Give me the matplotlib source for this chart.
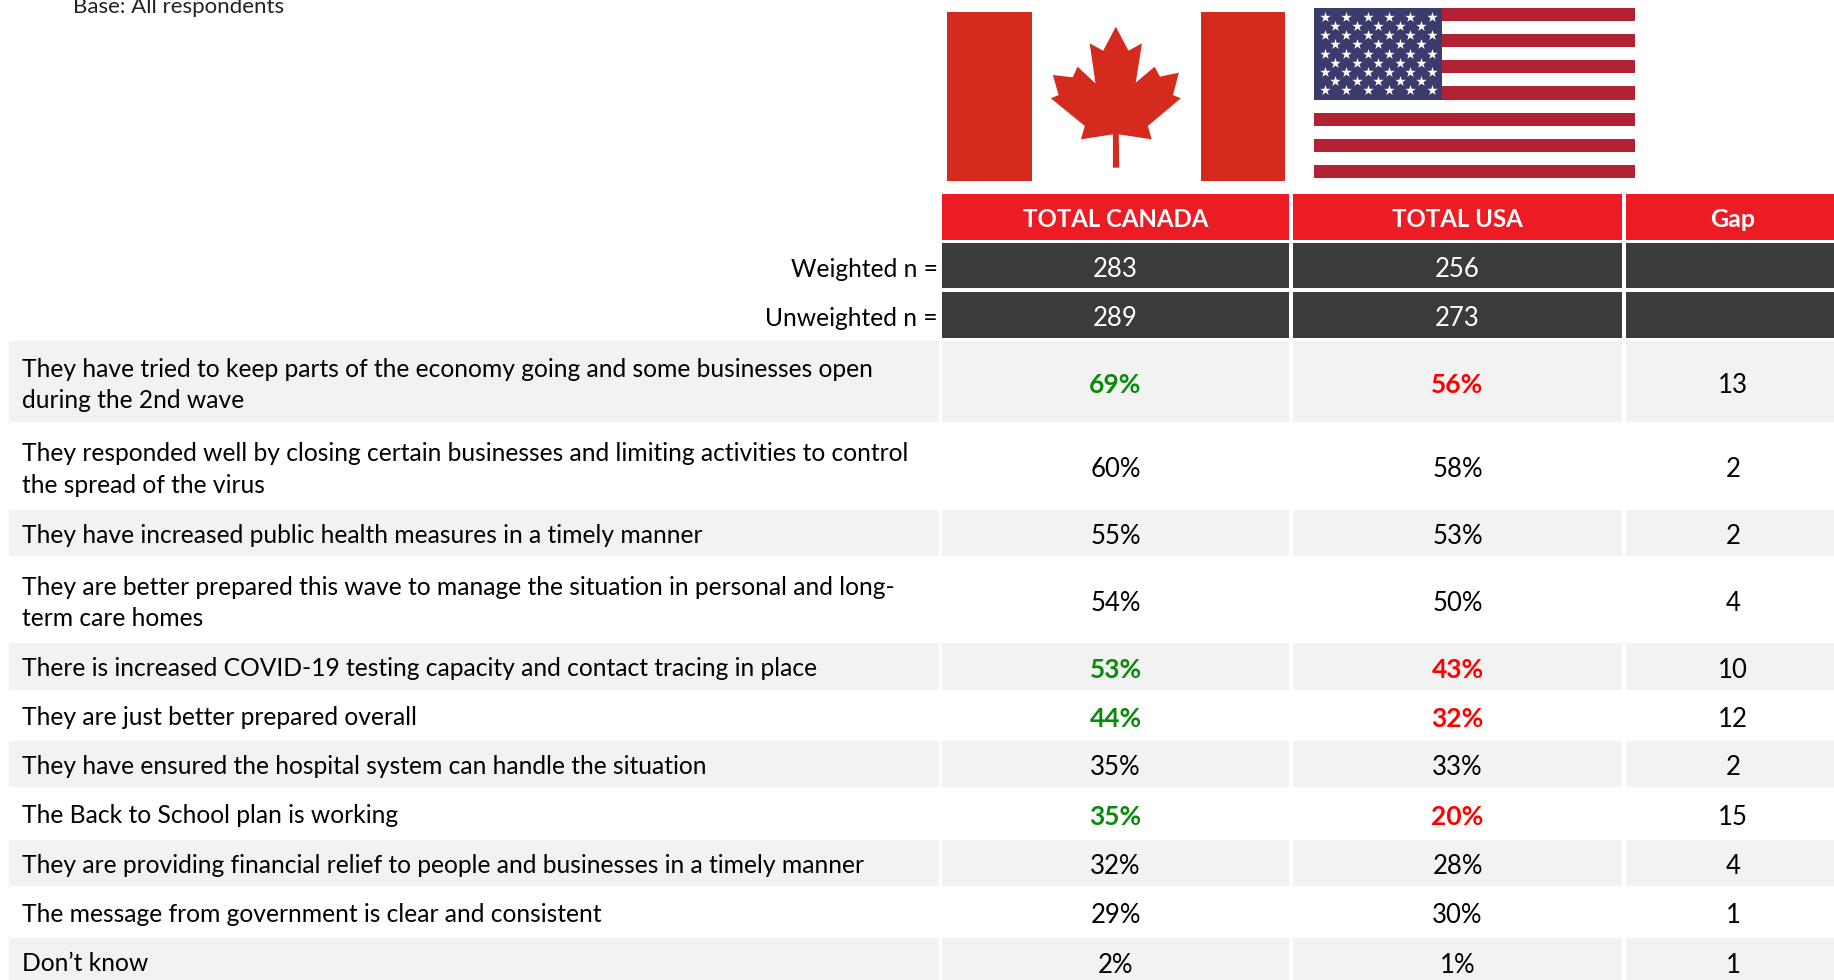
import matplotlib
matplotlib.use("Agg")
import matplotlib.pyplot as plt
from matplotlib.patches import Polygon, Rectangle

plt.rcParams["font.family"] = ["Lato", "DejaVu Sans"]

# table content
base_note = "Base: All respondents"
headers = ["TOTAL CANADA", "TOTAL USA", "Gap"]
weighted_n = ["283", "256", ""]
unweighted_n = ["289", "273", ""]
statements = [
    "They have tried to keep parts of the economy going and some businesses open\nduring the 2nd wave",
    "They responded well by closing certain businesses and limiting activities to control\nthe spread of the virus",
    "They have increased public health measures in a timely manner",
    "They are better prepared this wave to manage the situation in personal and long-\nterm care homes",
    "There is increased COVID-19 testing capacity and contact tracing in place",
    "They are just better prepared overall",
    "They have ensured the hospital system can handle the situation",
    "The Back to School plan is working",
    "They are providing financial relief to people and businesses in a timely manner",
    "The message from government is clear and consistent",
    "Don\u2019t know",
]
canada = [69, 60, 55, 54, 53, 44, 35, 35, 32, 29, 2]
usa = [56, 58, 53, 50, 43, 32, 33, 20, 28, 30, 1]
gap = [13, 2, 2, 4, 10, 12, 2, 15, 4, 1, 1]
significant = [True, False, False, False, True, True, False, True, False, False, False]

# layout, in reference pixels (last row and column run off the canvas)
W, H = 1834, 980
col_edges = [(942, 1289), (1293, 1622), (1626, 1840)]
row_edges = [341, 423, 510, 557, 643, 691, 741, 788, 840, 887, 938, 986]
RED = "#ED1C24"
DARK = "#3B3B3B"
GREY = "#F2F2F2"
GREEN = "#0A8A0A"
TEXT_SIZE = 17.7
NUM_SIZE = 18.5

fig = plt.figure(figsize=(W / 100, H / 100), dpi=100)
ax = fig.add_axes([0, 0, 1, 1])
ax.set_xlim(0, W)
ax.set_ylim(H, 0)
ax.axis("off")


def cell(x0, x1, y0, y1, color):
    ax.add_patch(Rectangle((x0, y0), x1 - x0, y1 - y0, facecolor=color, edgecolor="none"))


def centered(x, y, text, color="black", weight="normal", size=NUM_SIZE):
    ax.text(x, y, text, ha="center", va="center", color=color, fontweight=weight, fontsize=size)


ax.text(73, 7, base_note, ha="left", va="center", fontsize=16, color="#222222")

# Canadian flag
cell(947, 1032, 12, 181, "#D52B1E")
cell(1201, 1285, 12, 181, "#D52B1E")
leaf = [(404, 80), (430, 152), (458, 130), (445, 248), (484, 200), (495, 230), (534, 218),
        (522, 285), (538, 295), (470, 378), (478, 418), (410, 403), (411, 503), (398, 503),
        (398, 403), (332, 418), (340, 378), (270, 295), (286, 285), (274, 225), (315, 232),
        (325, 200), (362, 250), (350, 130), (378, 152)]
leaf = [(920 + x / 2.063, y / 3) for x, y in leaf]
ax.add_patch(Polygon(leaf, closed=True, facecolor="#D52B1E", edgecolor="none"))

# US flag
stripe = 170 / 13
for i in range(0, 13, 2):
    cell(1314, 1635, 8 + i * stripe, 8 + (i + 1) * stripe, "#B22234")
cell(1314, 1442, 8, 8 + 7 * stripe, "#3C3B6E")
for r in range(9):
    n = 6 if r % 2 == 0 else 5
    x0 = 1324.7 if r % 2 == 0 else 1335.4
    ax.scatter([x0 + 21.4 * k for k in range(n)], [17 + 9.15 * r] * n, marker="*", s=62,
               color="white", linewidths=0, zorder=3)

# header rows
for (x0, x1), head, wn, un in zip(col_edges, headers, weighted_n, unweighted_n):
    cell(x0, x1, 194, 239.5, RED)
    cell(x0, x1, 243, 288, DARK)
    cell(x0, x1, 292, 338, DARK)
    xc = (x0 + x1) / 2
    size = 17.3 if head != "Gap" else 18
    centered(xc, 219, head, color="white", weight="bold", size=size)
    centered(xc, 269.5, wn, color="white")
    centered(xc, 318.5, un, color="white")

ax.text(938, 269.5, "Weighted n =", ha="right", va="center", fontsize=TEXT_SIZE)
ax.text(938, 318.5, "Unweighted n =", ha="right", va="center", fontsize=TEXT_SIZE)

# statement rows, every other one shaded
for i, statement in enumerate(statements):
    y0, y1 = row_edges[i], row_edges[i + 1]
    ym = (y0 + y1) / 2
    if i % 2 == 0:
        cell(9, 939, y0, y1 - 1, GREY)
        for x0, x1 in col_edges:
            cell(x0, x1, y0, y1 - 1, GREY)
    two_lines = "\n" in statement
    ax.text(22, ym + (3 if two_lines else 1.5), statement, ha="left", va="center",
            fontsize=TEXT_SIZE, linespacing=1.44)
    hot = significant[i]
    centered(1115.5, ym + 3, f"{canada[i]}%", color=GREEN if hot else "black", weight="bold" if hot else "normal", size=19 if hot else NUM_SIZE)
    centered(1457.5, ym + 3, f"{usa[i]}%", color="#FF0000" if hot else "black", weight="bold" if hot else "normal", size=19 if hot else NUM_SIZE)
    centered(col_edges[2][0] / 2 + col_edges[2][1] / 2, ym + 3, str(gap[i]))

fig.savefig("out.png", dpi=100)
